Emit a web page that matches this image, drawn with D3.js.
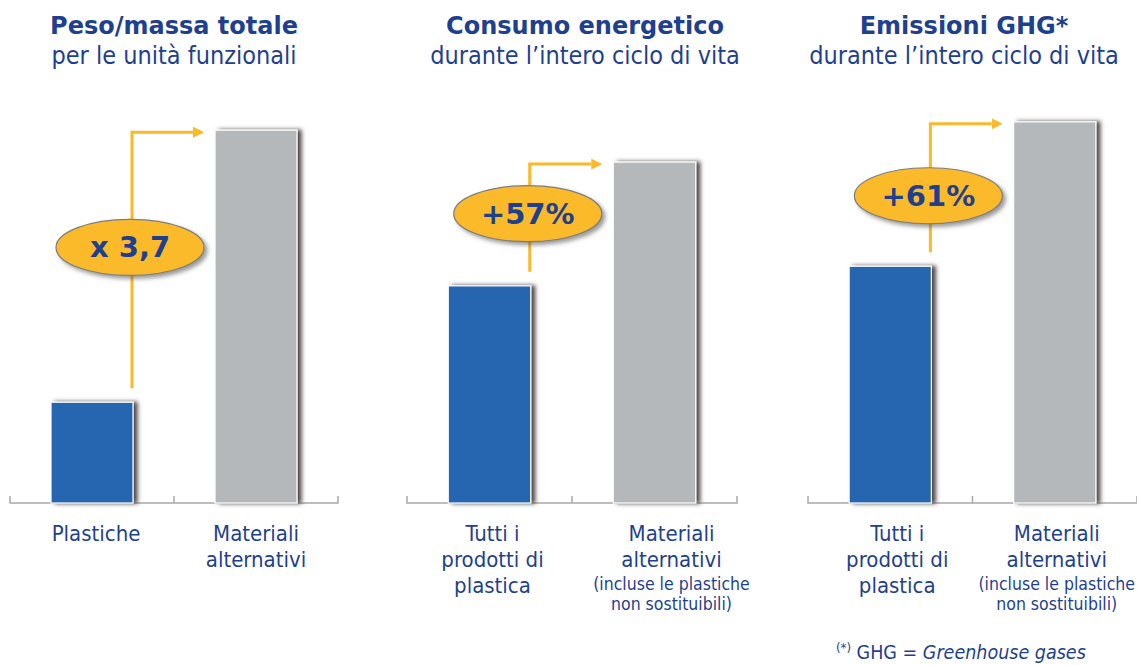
<!DOCTYPE html>
<html lang="it">
<head>
<meta charset="utf-8">
<script src="https://cdn.jsdelivr.net/npm/d3@7"></script>
<style>
  html, body { margin: 0; padding: 0; background: #fff; }
  svg { display: block; }
  .title { font-family: "DejaVu Sans", Verdana, sans-serif; font-weight: bold; fill: #1f3f8f; }
  .sub, .cat, .note, .foot { font-family: "DejaVu Sans Condensed", "DejaVu Sans", sans-serif; fill: #1f3f8f; }
  .badge-text { font-family: "DejaVu Sans", Verdana, sans-serif; font-weight: bold; fill: #1f3f8f; }
</style>
</head>
<body>
<script>
// ---- data ----
const titles = ["Peso/massa totale", "Consumo energetico", "Emissioni GHG*"];
const subtitles = ["per le unità funzionali", "durante l’intero ciclo di vita", "durante l’intero ciclo di vita"];
const categories = ["plastica", "alternativi"];
const plasticValues = [1, 100, 100];
const alternativeValues = [3.7, 157, 161];
const changeLabels = ["x 3,7", "+57%", "+61%"];
const plasticLabels = [["Plastiche"], ["Tutti i", "prodotti di", "plastica"], ["Tutti i", "prodotti di", "plastica"]];
const alternativeLabels = [["Materiali", "alternativi"], ["Materiali", "alternativi"], ["Materiali", "alternativi"]];
const alternativeNotes = [[], ["(incluse le plastiche", "non sostituibili)"], ["(incluse le plastiche", "non sostituibili)"]];
const yMax = [3.9, 181, 166];

// ---- layout ----
const W = 1137, H = 665;
const baseY = 503, topY = 110;
const axisSpans = [[10, 338], [407, 737], [808, 1137]];
const titleX = [174, 585, 964];
const labelShift = [[4, 0], [3, 17], [7, 2]];
const badgeAt = [0.55, 0.54, 0.44];

const colors = { plastica: "#2566b0", alternativi: "#b5b8bb", arrow: "#fbb829", badge: "#fbba2b" };

const svg = d3.select("body").append("svg").attr("width", W).attr("height", H);
const defs = svg.append("defs");

const barShadow = defs.append("filter").attr("id", "barShadow")
  .attr("x", "-20%").attr("y", "-10%").attr("width", "150%").attr("height", "120%");
barShadow.append("feDropShadow").attr("dx", 4).attr("dy", 0).attr("stdDeviation", 2)
  .attr("flood-color", "#3a3030").attr("flood-opacity", 0.9);

const badgeShadow = defs.append("filter").attr("id", "badgeShadow")
  .attr("x", "-20%").attr("y", "-30%").attr("width", "150%").attr("height", "170%");
badgeShadow.append("feDropShadow").attr("dx", 3).attr("dy", 3).attr("stdDeviation", 2)
  .attr("flood-color", "#555").attr("flood-opacity", 0.6);

defs.append("marker").attr("id", "arrowHead")
  .attr("viewBox", "0 0 10 10").attr("refX", 0).attr("refY", 5)
  .attr("markerUnits", "userSpaceOnUse")
  .attr("markerWidth", 11).attr("markerHeight", 11).attr("orient", "auto")
  .append("path").attr("d", "M0,0 L10,5 L0,10 Z").attr("fill", colors.arrow);

titles.forEach((title, i) => {
  const [x0, x1] = axisSpans[i];
  const g = svg.append("g");

  const x = d3.scaleBand().domain(categories).range([x0, x1]).paddingInner(0.5).paddingOuter(0.25);
  const y = d3.scaleLinear().domain([0, yMax[i]]).range([baseY, topY]);
  const values = { plastica: plasticValues[i], alternativi: alternativeValues[i] };
  const bw = x.bandwidth();

  // titles
  g.append("text").attr("class", "title").attr("x", titleX[i]).attr("y", 34)
    .attr("text-anchor", "middle").attr("font-size", 24).text(title);
  g.append("text").attr("class", "sub").attr("x", titleX[i]).attr("y", 64)
    .attr("text-anchor", "middle").attr("font-size", 25).text(subtitles[i]);

  // baseline with boundary ticks
  const mid = (x0 + x1) / 2;
  g.append("path")
    .attr("d", `M${x0},${baseY - 7}V${baseY}H${x1}V${baseY - 7}M${mid},${baseY}V${baseY - 7}`)
    .attr("fill", "none").attr("stroke", "#a9a9a9").attr("stroke-width", 1.5);

  // bars
  g.selectAll("rect.bar").data(categories).join("rect")
    .attr("class", "bar")
    .attr("x", d => x(d)).attr("width", bw)
    .attr("y", d => y(values[d])).attr("height", d => baseY - y(values[d]))
    .attr("fill", d => colors[d])
    .attr("stroke", "#fff").attr("stroke-width", 1.2)
    .attr("filter", "url(#barShadow)");

  // elbow arrow from the plastic bar to the alternative bar
  const ax = x("plastica") + bw - 1;
  const yStart = y(values.plastica) - 14;
  const yEnd = y(values.alternativi) + 2;
  const tipX = x("alternativi") - 12;
  g.append("path")
    .attr("d", `M${ax},${yStart}V${yEnd}H${tipX - 10}`)
    .attr("fill", "none").attr("stroke", colors.arrow).attr("stroke-width", 3)
    .attr("marker-end", "url(#arrowHead)");

  // ratio badge
  const by = yStart - (yStart - yEnd) * badgeAt[i];
  const bx = ax - 2;
  g.append("ellipse").attr("cx", bx).attr("cy", by).attr("rx", 74).attr("ry", 28)
    .attr("fill", colors.badge).attr("stroke", "#7d7d7d").attr("stroke-width", 1.2)
    .attr("filter", "url(#badgeShadow)");
  g.append("text").attr("class", "badge-text").attr("x", bx).attr("y", by + 10)
    .attr("text-anchor", "middle").attr("font-size", 29).text(changeLabels[i]);

  // category labels
  const labelBlock = (lines, notes, cx) => {
    lines.forEach((t, k) => {
      g.append("text").attr("class", "cat").attr("x", cx).attr("y", 541 + k * 26)
        .attr("text-anchor", "middle").attr("font-size", 22).text(t);
    });
    notes.forEach((t, k) => {
      g.append("text").attr("class", "note").attr("x", cx).attr("y", 590 + k * 19.5)
        .attr("text-anchor", "middle").attr("font-size", 17.5).text(t);
    });
  };
  labelBlock(plasticLabels[i], [], x("plastica") + bw / 2 + labelShift[i][0]);
  labelBlock(alternativeLabels[i], alternativeNotes[i], x("alternativi") + bw / 2 + labelShift[i][1]);
});

// footnote
const foot = svg.append("text").attr("class", "foot").attr("x", 836).attr("y", 659).attr("font-size", 19.5);
foot.append("tspan").attr("font-size", 13).attr("dy", -7).text("(*)");
foot.append("tspan").attr("dy", 7).text(" GHG = ");
foot.append("tspan").attr("font-style", "italic").text("Greenhouse gases");
</script>
</body>
</html>
